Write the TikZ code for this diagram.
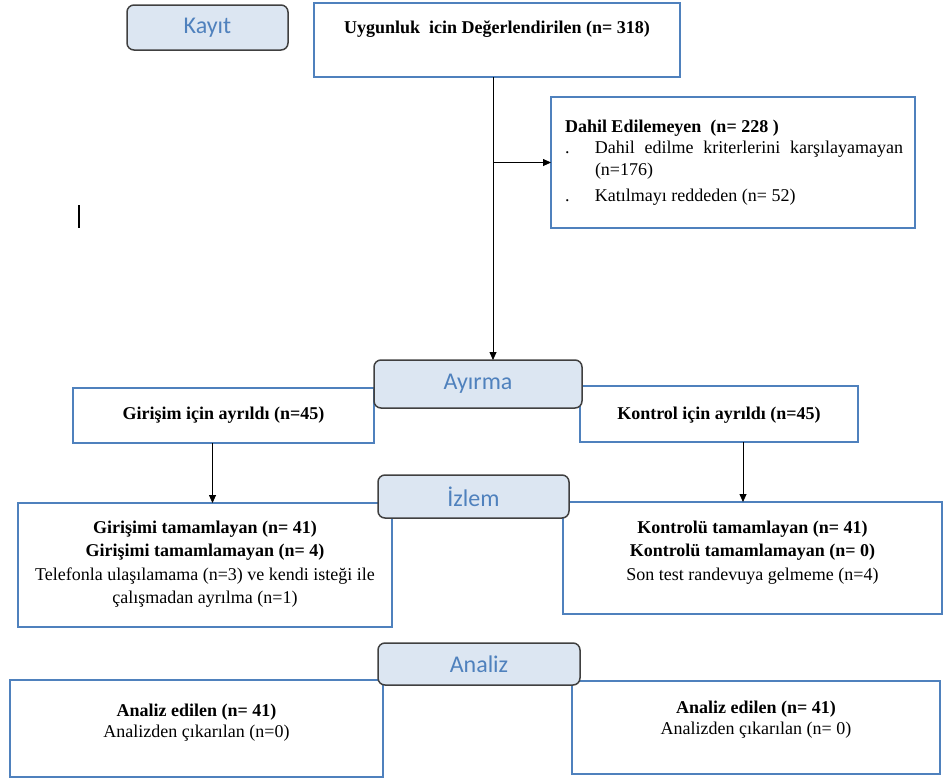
\documentclass[tikz,border=0pt]{standalone}
\usepackage{fontspec}
\setmainfont{Liberation Serif}
\newfontfamily\etiketfont{Carlito}
\usetikzlibrary{calc}
\usetikzlibrary{arrows.meta}
\definecolor{kenar}{RGB}{79,129,189}
\definecolor{etiketzemin}{RGB}{220,230,242}
\definecolor{etiketkenar}{RGB}{64,64,64}
\tikzset{
  kutu/.style={draw=kenar, line width=2.8pt, fill=white, inner sep=0pt, outer sep=0pt, anchor=north west, font=\fontsize{18}{23.5}\selectfont},
  asama/.style={draw=etiketkenar, line width=1.5pt, fill=etiketzemin, rounded corners=7pt, inner sep=0pt, outer sep=0pt, text=kenar, font=\etiketfont\fontsize{24}{26}\selectfont},
  ok/.style={-{Triangle[length=8pt,width=7pt]}, line width=0.8pt}
}
\newcommand{\kutuciz}[7]{\node[kutu] (#1) at ( #2 , #3 ) {\parbox[c][#5pt][t]{#4pt}{\centering\vspace*{#6pt}\rule{0pt}{14pt}#7}};}
\newcommand{\asamaciz}[6]{\node[asama, minimum width=#4pt, minimum height=#5pt] (#1) at ( #2 , #3 ) {#6};}

\begin{document}
\begin{tikzpicture}[x=1pt,y=-1pt]
        \useasboundingbox (0,0) rectangle (946,780);
        % kayit
        \kutuciz{uygun}{314}{3}{366}{74}{16}{\textbf{Uygunluk\ \ icin Değerlendirilen (n= 318)}}
        \kutuciz{dahil}{551}{97}{364}{131}{21}{\fontsize{18}{21.5}\selectfont\leftskip=14pt\rightskip=12pt\parfillskip=0pt plus 1fil \textbf{Dahil Edilemeyen\ \ (n= 228 )}\par
          \leftskip=44pt\noindent\llap{\makebox[30pt][l]{.}}Dahil edilme kriterlerini karşılayamayan\linebreak (n=176)\par
          \vspace{5pt}\noindent\llap{\makebox[30pt][l]{.}}Katılmayı reddeden (n= 52)\par}
        % ayirma
        \kutuciz{girisim}{73}{388}{301}{55}{17}{\textbf{Girişim için ayrıldı (n=45)}}
        \kutuciz{kontrol}{580}{386}{278}{56}{19}{\textbf{Kontrol için ayrıldı (n=45)}}
        % izlem
        \kutuciz{gtam}{18}{503}{374}{124}{16}{\textbf{Girişimi tamamlayan (n= 41)}\\
          \textbf{Girişimi tamamlamayan (n= 4)}\\
          Telefonla ulaşılamama (n=3) ve kendi isteği ile\\ çalışmadan ayrılma (n=1)}
        \kutuciz{ktam}{563}{502}{379}{112}{17}{\fontsize{18}{23.5}\selectfont\textbf{Kontrolü tamamlayan (n= 41)}\\
          \textbf{Kontrolü tamamlamayan (n= 0)}\\
          Son test randevuya gelmeme (n=4)}
        % analiz
        \kutuciz{ganaliz}{10}{680}{373}{97}{22}{\fontsize{18}{21}\selectfont\textbf{Analiz edilen (n= 41)}\\ Analizden çıkarılan (n=0)}
        \kutuciz{kanaliz}{572}{681}{368}{93}{18}{\fontsize{18}{21}\selectfont\textbf{Analiz edilen (n= 41)}\\ Analizden çıkarılan (n= 0)}
        % etiketler
        \asamaciz{kayit}{207.5}{27.5}{161}{45}{Kayıt}
        \asamaciz{ayirma}{478}{384}{208}{48}{Ayırma}
        \asamaciz{izlem}{473.5}{496.5}{191}{43}{İzlem}
        \asamaciz{analiz}{479}{664}{202}{42}{Analiz}
        % oklar
        \coordinate (dal) at ([xshift=-4pt]uygun.south);
        \draw[ok] (dal) -- (dal |- ayirma.north);
        \draw[ok] (dal |- dahil.west) -- (dahil.west);
        \draw[ok] ([xshift=-11pt]girisim.south) -- ([xshift=-11pt]girisim.south |- gtam.north);
        \draw[ok] ([xshift=24pt]kontrol.south) -- ([xshift=24pt]kontrol.south |- ktam.north);
        % imlec
        \draw[line width=1.5pt] (79,205) -- (79,228);
\end{tikzpicture}
\end{document}
